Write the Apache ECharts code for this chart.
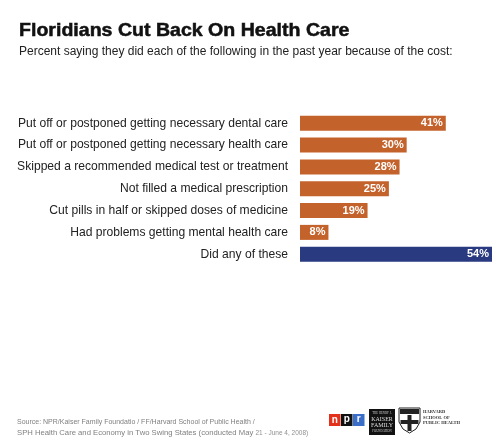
<!DOCTYPE html>
<html><head><meta charset="utf-8">
<script src="https://cdn.jsdelivr.net/npm/echarts@6/dist/echarts.min.js"></script>
<style>html,body{margin:0;padding:0;background:#fff}#c{width:502px;height:448px}</style>
</head><body><div id="c"></div>
<script>
const categories = [
  "Put off or postponed getting necessary dental care",
  "Put off or postponed getting necessary health care",
  "Skipped a recommended medical test or treatment",
  "Not filled a medical prescription",
  "Cut pills in half or skipped doses of medicine",
  "Had problems getting mental health care",
  "Did any of these"
];
const values = [41, 30, 28, 25, 19, 8, 54];
const barColors = ["#c4622c","#c4622c","#c4622c","#c4622c","#c4622c","#c4622c","#293a80"];
const titleText = "Floridians Cut Back On Health Care";
const subtitleText = "Percent saying they did each of the following in the past year because of the cost:";
const sourceLine1 = "Source: NPR/Kaiser Family Foundatio / FF/Harvard School of Public Health /";
const sourceLine2a = "SPH Health Care and Economy in Two Swing States (conducted May ";
const sourceLine2b = "21 - June 4, 2008)";

const chart = echarts.init(document.getElementById('c'), null, {renderer:'canvas'});
const F = "Liberation Sans, Arial, Helvetica, sans-serif";
chart.setOption({
  animation: false,
  backgroundColor: '#fff',
  grid: {left: 300, right: 10, top: 112.4, height: 152.7, containLabel:false},
  xAxis: {type:'value', min:0, max:54, show:false},
  yAxis: {
    type:'category', data: categories, inverse:true,
    axisLine:{show:false}, axisTick:{show:false},
    axisLabel:{fontFamily:F, fontSize:12.1, color:'#222', margin:12}
  },
  series: [{
    type:'bar',
    data: values.map((v,i)=>({value:v, itemStyle:{color:barColors[i]}})),
    barWidth: 15,
    label:{show:true, position:'insideRight', distance:3, formatter:'{c}%', color:'#fff', fontFamily:F, fontSize:11, fontWeight:'bold'}
  }],
  graphic: [
    {type:'text', x:19, y:31, scaleX:1.1, originX:0, originY:0,
      style:{text:titleText, font:'bold 17.8px '+F, fill:'#111', stroke:'#111', lineWidth:0.5, verticalAlign:'middle'}},
    {type:'text', x:19, y:51.5, style:{text:subtitleText, font:'12px '+F, fill:'#222', verticalAlign:'middle'}},
    {type:'text', x:17, y:422, style:{text:sourceLine1, font:'7px '+F, fill:'#808080', verticalAlign:'middle'}},
    {type:'text', x:17, y:432.5, style:{text:'{a|'+sourceLine2a+'}{b|'+sourceLine2b+'}', verticalAlign:'middle',
      rich:{a:{fontFamily:F, fontSize:7.7, fill:'#808080', verticalAlign:'bottom'}, b:{fontFamily:F, fontSize:6.5, fill:'#909090', verticalAlign:'bottom'}}}},
    // NPR logo
    {type:'rect', shape:{x:329,y:414,width:11.5,height:12}, style:{fill:'#e2321b'}},
    {type:'rect', shape:{x:341,y:414,width:11.5,height:12}, style:{fill:'#111'}},
    {type:'rect', shape:{x:353,y:414,width:11.5,height:12}, style:{fill:'#3b6ec9'}},
    {type:'text', x:334.7, y:420, style:{text:'n', font:'bold 10px '+F, fill:'#fff', align:'center', verticalAlign:'middle'}},
    {type:'text', x:346.7, y:419.5, style:{text:'p', font:'bold 10px '+F, fill:'#fff', align:'center', verticalAlign:'middle'}},
    {type:'text', x:358.7, y:419.5, style:{text:'r', font:'bold 10px '+F, fill:'#fff', align:'center', verticalAlign:'middle'}},
    // Kaiser logo
    {type:'rect', shape:{x:369,y:409,width:26,height:26}, style:{fill:'#111'}},
    {type:'text', x:382, y:413, style:{text:'THE HENRY J.', font:'3px serif', fill:'#ccc', align:'center', verticalAlign:'middle'}},
    {type:'text', x:382, y:419, style:{text:'KAISER', font:'6px serif', fill:'#ddd', align:'center', verticalAlign:'middle'}},
    {type:'text', x:382, y:425, style:{text:'FAMILY', font:'6px serif', fill:'#ddd', align:'center', verticalAlign:'middle'}},
    {type:'text', x:382, y:431, style:{text:'FOUNDATION', font:'3px serif', fill:'#ccc', align:'center', verticalAlign:'middle'}},
    // Harvard shield
    {type:'polygon', shape:{points:[[399,408],[420,408],[420,422],[416,429],[409.5,433],[403,429],[399,422]]}, style:{fill:'#fff', stroke:'#222', lineWidth:1}},
    {type:'rect', shape:{x:400,y:409,width:19,height:5}, style:{fill:'#222'}},
    {type:'rect', shape:{x:407.5,y:415,width:4,height:16}, style:{fill:'#222'}},
    {type:'rect', shape:{x:400.5,y:420,width:18,height:4}, style:{fill:'#222'}},
    {type:'text', x:423, y:412, style:{text:'HARVARD', font:'bold 4.5px serif', fill:'#333', verticalAlign:'middle'}},
    {type:'text', x:423, y:417.5, style:{text:'SCHOOL OF', font:'bold 4.5px serif', fill:'#333', verticalAlign:'middle'}},
    {type:'text', x:423, y:423, style:{text:'PUBLIC HEALTH', font:'bold 4.5px serif', fill:'#333', verticalAlign:'middle'}}
  ]
});
</script></body></html>
